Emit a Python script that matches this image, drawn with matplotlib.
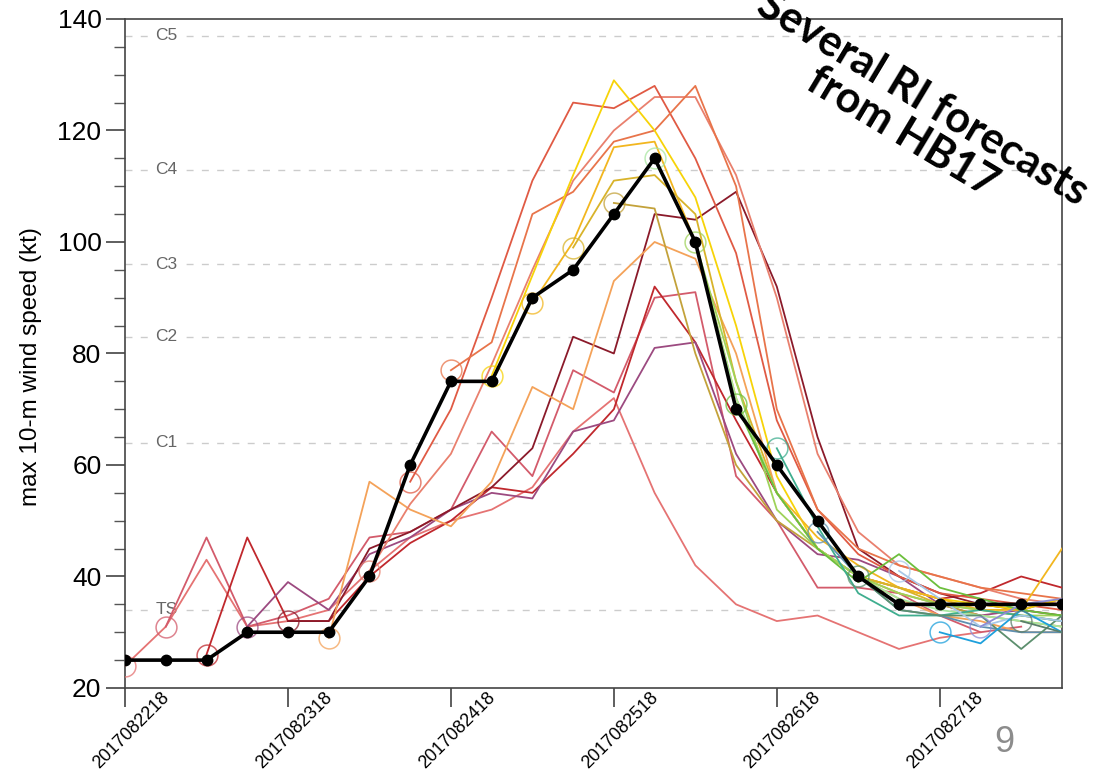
# Harvey intensity spaghetti: HB17 forecasts vs best track
import matplotlib
matplotlib.use('Agg')
import matplotlib.pyplot as plt
import matplotlib.transforms as mtransforms
import numpy as np

# --- best track, 6-hourly from 2017082218 ---
best_vmax = [25, 25, 25, 30, 30, 30, 40, 60, 75, 75, 90, 95,
             105, 115, 100, 70, 60, 50, 40, 35, 35, 35, 35, 35]

# --- forecasts: init step (6-h index) and vmax from init on ---
fcst_init = list(range(23))
fcst_vmax = [
    [24, 31, 43, 31, 32, 34, 41, 47, 50, 52, 56, 66, 72, 55, 42, 35, 32, 33, 30, 27, 29, 30],
    [31, 47, 31, 33, 36, 47, 48, 52, 66, 58, 77, 73, 90, 91, 58, 50, 38, 38, 37, 33, 30, 31],
    [26, 47, 32, 32, 40, 46, 50, 56, 55, 62, 70, 92, 82, 68, 55, 45, 40, 38, 36, 37, 40, 38],
    [31, 39, 34, 44, 47, 52, 55, 54, 66, 68, 81, 82, 62, 50, 44, 43, 40, 35, 33, 34, 36],
    [32, 32, 45, 48, 52, 56, 63, 83, 80, 105, 104, 109, 92, 65, 45, 40, 37, 35, 34, 33],
    [29, 57, 52, 49, 57, 74, 70, 93, 100, 97, 80, 55, 45, 40, 36, 33, 32, 30, 30],
    [41, 53, 62, 78, 95, 111, 120, 126, 126, 112, 90, 62, 48, 42, 40, 38, 36, 35],
    [57, 70, 90, 111, 125, 124, 128, 115, 98, 68, 52, 44, 40, 37, 36, 35, 34],
    [77, 82, 105, 109, 118, 120, 128, 110, 70, 52, 45, 42, 40, 38, 37, 36],
    [76, 94, 112, 129, 120, 108, 85, 58, 45, 40, 38, 36, 35, 34, 36],
    [89, 100, 117, 118, 100, 72, 55, 47, 42, 38, 36, 34, 34, 45],
    [99, 111, 112, 105, 75, 55, 45, 40, 38, 35, 34, 33, 32],
    [107, 106, 80, 60, 50, 45, 40, 37, 35, 33, 32, 31],
    [115, 100, 72, 55, 45, 40, 36, 34, 33, 32, 31],
    [100, 75, 52, 45, 40, 37, 35, 34, 33, 33],
    [71, 55, 45, 39, 44, 38, 36, 34, 33],
    [63, 49, 37, 33, 33, 34, 33, 32],
    [48, 40, 34, 33, 31, 30, 30],
    [40, 34, 33, 33, 27, 33],
    [41, 36, 31, 33, 32],
    [30, 28, 34, 30],
    [31, 35, 36],
    [32, 30],
]
fcst_colors = ['#e57373', '#d35b6b', '#c0282d', '#9c4a80', '#8b1a2a', '#f4a259',
               '#e9806e', '#e05a44', '#e8744a', '#f7d308', '#f2b61f', '#d8b32a',
               '#c3a23a', '#a8e6a0', '#9fd35a', '#6cbf3c', '#3fae8f', '#5f8fb0',
               '#5c8f6e', '#a8c8e8', '#1ea0dc', '#8c8cd6', '#5a7f6a']

# --- Saffir-Simpson thresholds (kt) ---
cat_names = ['TS', 'C1', 'C2', 'C3', 'C4', 'C5']
cat_vmax = [34, 64, 83, 96, 113, 137]

tick_steps = [0, 4, 8, 12, 16, 20]
tick_labels = ['2017082218', '2017082318', '2017082418',
               '2017082518', '2017082618', '2017082718']

fig = plt.figure(figsize=(10.93, 7.78), dpi=100)
ax = fig.add_axes([0.1144, 0.1157, 0.8572, 0.8599])

for name, v in zip(cat_names, cat_vmax):
    ax.axhline(v, color='#cccccc', linestyle=(0, (5, 6)), linewidth=1.0, zorder=1)
    ax.text(0.75, v, name, fontsize=12.5, color='#666666', va='center', ha='left',
            family='Liberation Sans', zorder=2,
            bbox=dict(facecolor='white', edgecolor='none', pad=1.0))

for i0, vals, col in zip(fcst_init, fcst_vmax, fcst_colors):
    steps = np.arange(i0, i0 + len(vals))
    ax.plot(steps, vals, color=col, linewidth=1.3, zorder=3)
    ax.plot(steps[0], vals[0], 'o', markersize=15, markerfacecolor='none',
            markeredgecolor=col, markeredgewidth=1.1, alpha=0.75, zorder=4)

ax.plot(np.arange(len(best_vmax)), best_vmax, color='black', linewidth=2.6,
        marker='o', markersize=7.5, zorder=6)

ax.set_xlim(0, 23)
ax.set_ylim(20, 140)
ax.set_yticks(np.arange(20, 141, 20))
ax.set_yticks(np.arange(20, 141, 5), minor=True)
ax.set_xticks(tick_steps)
ax.set_xticklabels(tick_labels, rotation=45, ha='center',
                   fontsize=13, family='Liberation Sans')
ax.tick_params(axis='x', length=14, width=1.1, color='#333333', pad=-13)
# shift the slanted date labels a little to the right, as in the original
shift = mtransforms.ScaledTranslation(0.06, 0, fig.dpi_scale_trans)
for lab in ax.get_xticklabels():
    lab.set_transform(lab.get_transform() + shift)
ax.tick_params(axis='y', which='major', length=14, width=1.1, color='#333333',
               labelsize=19, pad=3)
ax.tick_params(axis='y', which='minor', length=8, width=1.0, color='#555555')
for lab in ax.get_yticklabels():
    lab.set_family('Liberation Sans')
ax.set_ylabel('max 10-m wind speed (kt)', fontsize=17.5, family='Liberation Sans')
ax.yaxis.set_label_coords(-0.089, 0.48)
for sp in ax.spines.values():
    sp.set_color('#444444')
    sp.set_linewidth(1.2)

fig.text(0.835, 0.852, 'Several RI forecasts\nfrom HB17', rotation=-31,
         fontsize=31, fontweight='bold', family='Lato', ha='center', va='center',
         multialignment='center', linespacing=1.0, zorder=10)
fig.text(0.919, 0.046, '9', fontsize=26, color='#8c8c8c', family='Liberation Sans',
         ha='center', va='center')

fig.savefig('out.png', dpi=100)
plt.close(fig)
